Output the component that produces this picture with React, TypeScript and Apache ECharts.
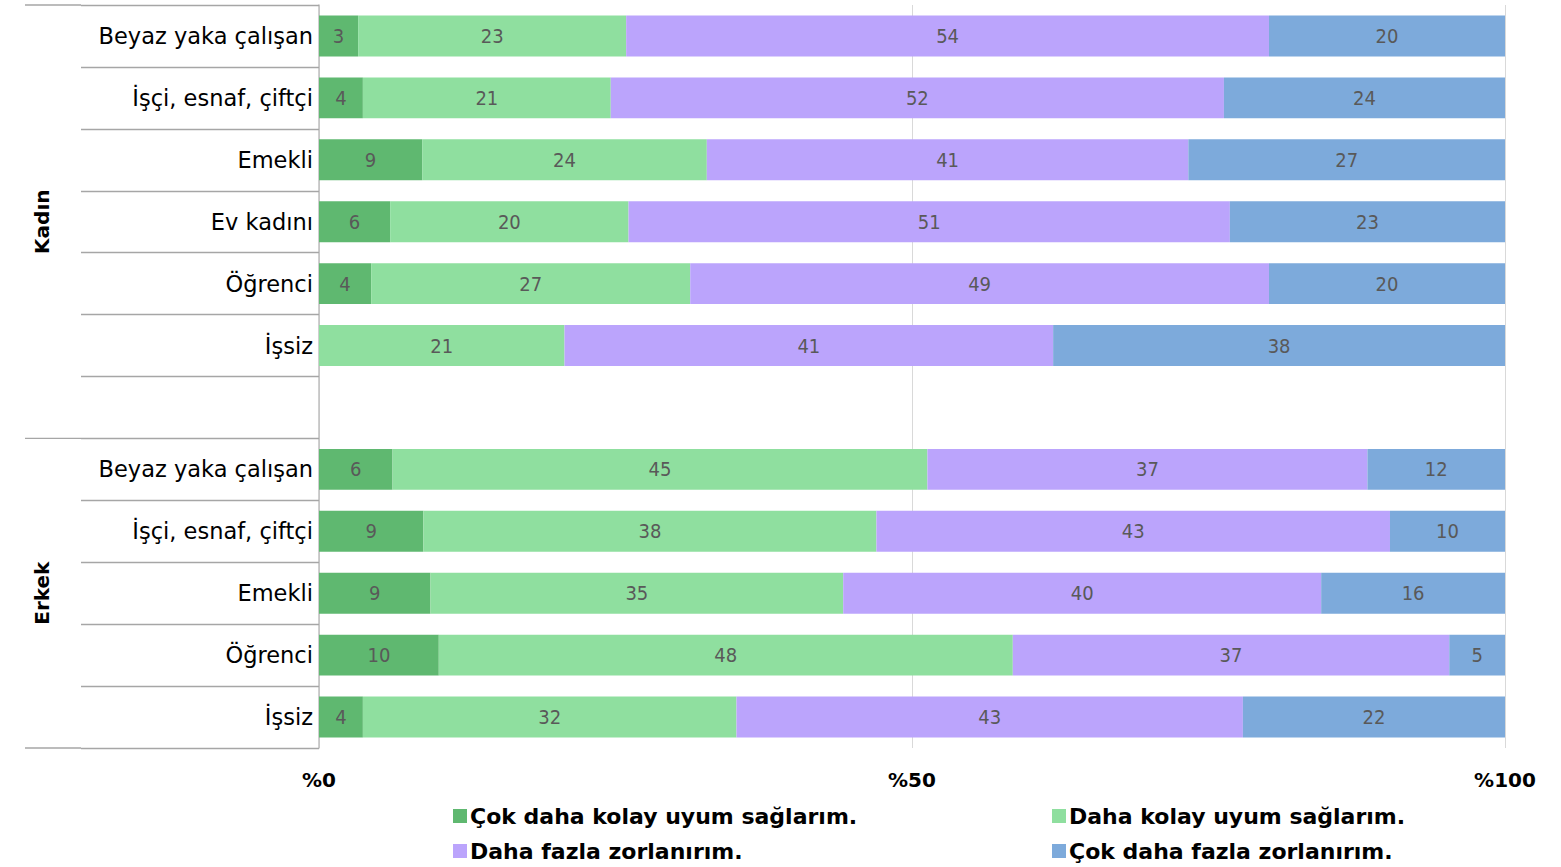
import React, { useEffect, useRef } from "react";
import * as echarts from "echarts";

const categories = [
  "Beyaz yaka çalışan",
  "İşçi, esnaf, çiftçi",
  "Emekli",
  "Ev kadını",
  "Öğrenci",
  "İşsiz",
  "",
  "Beyaz yaka çalışan ",
  "İşçi, esnaf, çiftçi ",
  "Emekli ",
  "Öğrenci ",
  "İşsiz ",
];

const groups = ["Kadın", "Erkek"];
const seriesNames = [
  "Çok daha kolay uyum sağlarım.",
  "Daha kolay uyum sağlarım.",
  "Daha fazla zorlanırım.",
  "Çok daha fazla zorlanırım.",
];
const colors = ["#5fb870", "#8fdf9f", "#bba4fc", "#7daadb"];

const cokKolay = [3.3, 3.7, 8.7, 6.0, 4.4, 0, null, 6.2, 8.8, 9.4, 10.1, 3.7];
const kolay = [22.6, 20.9, 24.0, 20.1, 26.9, 20.7, null, 45.1, 38.2, 34.8, 48.4, 31.5];
const zor = [54.2, 51.7, 40.6, 50.7, 48.8, 41.2, null, 37.1, 43.3, 40.3, 36.8, 42.7];
const cokZor = [19.9, 23.7, 26.7, 23.2, 19.9, 38.1, null, 11.6, 9.7, 15.5, 4.7, 22.1];

const xTicks = ["%0", "%50", "%100"];

const GRID_LEFT = 319;
const GRID_TOP = 5;
const GRID_RIGHT = 56;
const GRID_BOTTOM = 119;

export default function App() {
  const ref = useRef<HTMLDivElement>(null);
  useEffect(() => {
    if (!ref.current) return;
    const chart = echarts.init(ref.current, null, { renderer: "svg" });
    const H = 867;
    const plotH = H - GRID_TOP - GRID_BOTTOM;
    const rowH = plotH / categories.length;
    const y0 = GRID_TOP;
    const ySplit = GRID_TOP + rowH * 7;
    const yEnd = GRID_TOP + plotH;
    const lineStyle = { stroke: "#a6a6a6", lineWidth: 1.3 };
    const allData = [cokKolay, kolay, zor, cokZor];
    const labelFont = "'DejaVu Sans Condensed', 'DejaVu Sans', sans-serif";
    const mainFont = "'DejaVu Sans', sans-serif";

    const series = allData.map((d, i) => ({
      name: seriesNames[i],
      type: "bar",
      stack: "total",
      barCategoryGap: "34%",
      itemStyle: { color: colors[i] },
      label: {
        show: true,
        position: "inside",
        color: "#595959",
        fontSize: 20,
        fontFamily: labelFont,
        formatter: (p: any) => (p.value ? String(Math.round(p.value)) : ""),
      },
      data: d,
    }));

    const legendPos = [
      { left: 448, top: 800 },
      { left: 1047, top: 800 },
      { left: 448, top: 835 },
      { left: 1047, top: 835 },
    ];
    const legends = seriesNames.map((n, i) => ({
      data: [n],
      left: legendPos[i].left,
      top: legendPos[i].top,
      itemWidth: 14,
      itemHeight: 14,
      icon: "rect",
      itemGap: 6,
      textStyle: {
        fontSize: 22,
        fontWeight: "bold",
        color: "#000",
        fontFamily: mainFont,
        padding: [0, 0, 0, -2],
      },
    }));

    chart.setOption({
      animation: false,
      textStyle: { fontFamily: mainFont },
      grid: { left: GRID_LEFT, right: GRID_RIGHT, top: GRID_TOP, bottom: GRID_BOTTOM },
      legend: legends,
      xAxis: {
        type: "value",
        min: 0,
        max: 100,
        interval: 50,
        axisLine: { show: false },
        axisTick: { show: false },
        splitLine: { show: true, lineStyle: { color: "#d9d9d9", width: 1 } },
        axisLabel: {
          formatter: (v: number) => xTicks[Math.round(v / 50)],
          fontSize: 20,
          fontWeight: "bold",
          color: "#000",
          margin: 22,
          fontFamily: mainFont,
        },
      },
      yAxis: {
        type: "category",
        inverse: true,
        data: categories,
        axisLine: { show: true, lineStyle: { color: "#bfbfbf", width: 1.5 } },
        axisTick: { show: true, length: 238, lineStyle: { color: "#a6a6a6", width: 1.3 } },
        axisLabel: {
          fontSize: 22.5,
          color: "#000",
          margin: 6,
          fontFamily: mainFont,
          formatter: (v: string) => v.trim(),
        },
      },
      graphic: [
        { type: "line", shape: { x1: 25, y1: y0, x2: 81, y2: y0 }, style: lineStyle },
        { type: "line", shape: { x1: 25, y1: ySplit, x2: 81, y2: ySplit }, style: lineStyle },
        { type: "line", shape: { x1: 25, y1: yEnd, x2: 81, y2: yEnd }, style: lineStyle },
        {
          type: "text",
          x: 42,
          y: (y0 + ySplit) / 2,
          rotation: Math.PI / 2,
          style: {
            text: groups[0],
            fontSize: 20,
            fontWeight: "bold",
            fill: "#000",
            fontFamily: mainFont,
            align: "center",
            verticalAlign: "middle",
          },
        },
        {
          type: "text",
          x: 42,
          y: (ySplit + yEnd) / 2,
          rotation: Math.PI / 2,
          style: {
            text: groups[1],
            fontSize: 20,
            fontWeight: "bold",
            fill: "#000",
            fontFamily: mainFont,
            align: "center",
            verticalAlign: "middle",
          },
        },
      ],
      series,
    });
    return () => chart.dispose();
  }, []);
  return <div ref={ref} style={{ width: 1561, height: 867, position: "absolute", left: 0, top: 0 }} />;
}
